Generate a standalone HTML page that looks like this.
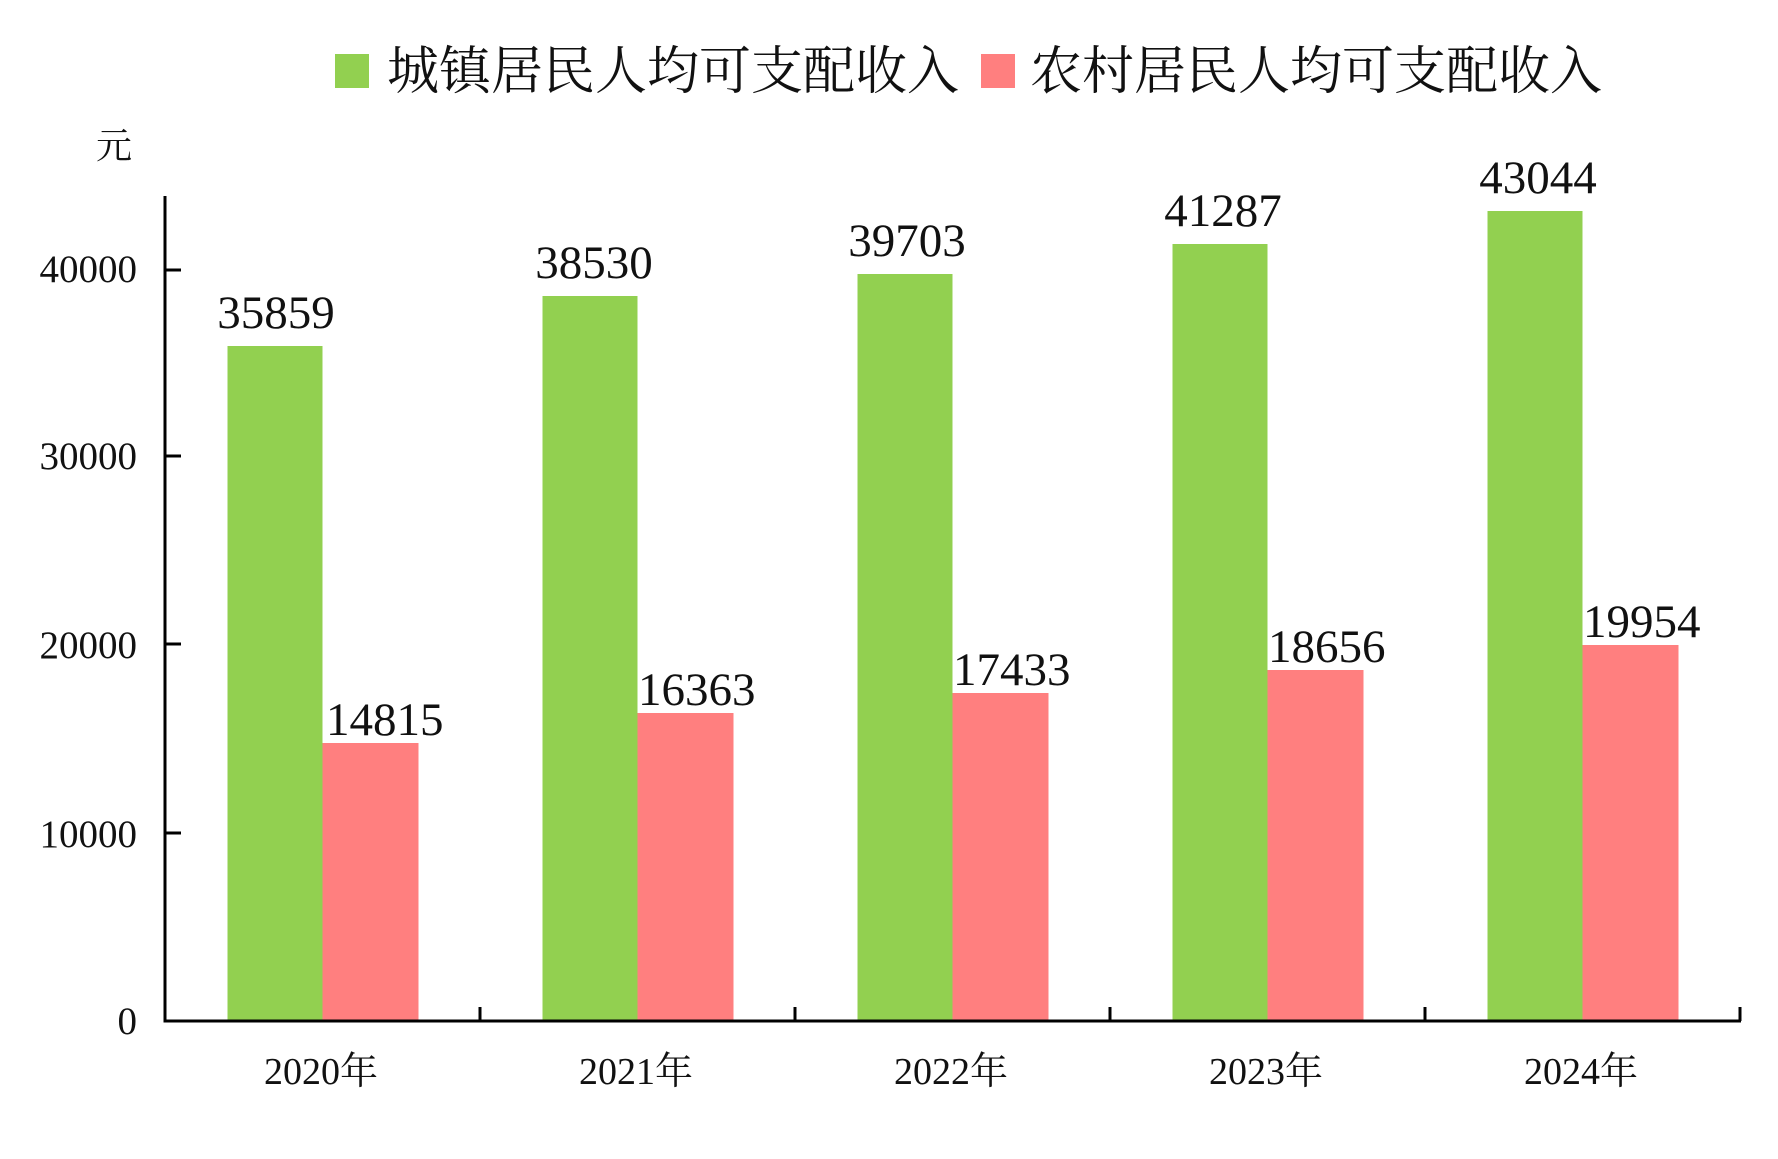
<!DOCTYPE html>
<html><head><meta charset="utf-8"><style>html,body{margin:0;padding:0;background:#fff}</style></head>
<body>
<svg width="1778" height="1154" viewBox="0 0 1778 1154" xmlns="http://www.w3.org/2000/svg" font-family="'Liberation Serif','Noto Serif CJK SC',serif">
<rect x="335" y="54" width="34" height="34" fill="#92D050"/>
<text x="387" y="89" font-size="52" fill="#111" textLength="572" font-family="'Liberation Serif','Noto Serif CJK SC',serif">城镇居民人均可支配收入</text>
<rect x="981" y="54" width="34" height="34" fill="#FF7F7F"/>
<text x="1030" y="89" font-size="52" fill="#111" textLength="572" font-family="'Liberation Serif','Noto Serif CJK SC',serif">农村居民人均可支配收入</text>
<text x="114" y="158" font-size="36" text-anchor="middle" fill="#111">元</text>
<g font-size="39" fill="#111" text-anchor="end">
<text x="137" y="469">30000</text>
<text x="137" y="282">40000</text>
<text x="137" y="658">20000</text>
<text x="137" y="847">10000</text>
<text x="137" y="1034">0</text>
</g>
<g fill="#92D050">
<rect x="227.5" y="346" width="95" height="675"/>
<rect x="542.5" y="296" width="95" height="725"/>
<rect x="857.5" y="274" width="95" height="747"/>
<rect x="1172.5" y="244" width="95" height="777"/>
<rect x="1487.5" y="211" width="95" height="810"/>
</g>
<g fill="#FF7F7F">
<rect x="322.5" y="743" width="96" height="278"/>
<rect x="637.5" y="713" width="96" height="308"/>
<rect x="952.5" y="693" width="96" height="328"/>
<rect x="1267.5" y="670" width="96" height="351"/>
<rect x="1582.5" y="645" width="96" height="376"/>
</g>
<g font-size="47" fill="#111">
<g text-anchor="middle">
<text x="276" y="328">35859</text>
<text x="594" y="278">38530</text>
<text x="907" y="256">39703</text>
<text x="1223" y="226">41287</text>
<text x="1538" y="193">43044</text>
</g>
<text x="326" y="735">14815</text>
<text x="638" y="705">16363</text>
<text x="953" y="685">17433</text>
<text x="1268" y="662">18656</text>
<text x="1583" y="637">19954</text>
</g>
<g stroke="#000" stroke-width="3" fill="none">
<line x1="165" y1="196" x2="165" y2="1022"/>
<line x1="163.5" y1="1021" x2="1741" y2="1021"/>
<line x1="165" y1="270" x2="181" y2="270"/>
<line x1="165" y1="456" x2="181" y2="456"/>
<line x1="165" y1="644" x2="181" y2="644"/>
<line x1="165" y1="833" x2="181" y2="833"/>
<line x1="480" y1="1021" x2="480" y2="1007"/>
<line x1="795" y1="1021" x2="795" y2="1007"/>
<line x1="1110" y1="1021" x2="1110" y2="1007"/>
<line x1="1425" y1="1021" x2="1425" y2="1007"/>
<line x1="1740" y1="1021" x2="1740" y2="1007"/>
</g>
<g font-size="38" fill="#111" text-anchor="middle">
<text x="321" y="1084">2020年</text>
<text x="636" y="1084">2021年</text>
<text x="951" y="1084">2022年</text>
<text x="1266" y="1084">2023年</text>
<text x="1581" y="1084">2024年</text>
</g>
</svg>
</body></html>
